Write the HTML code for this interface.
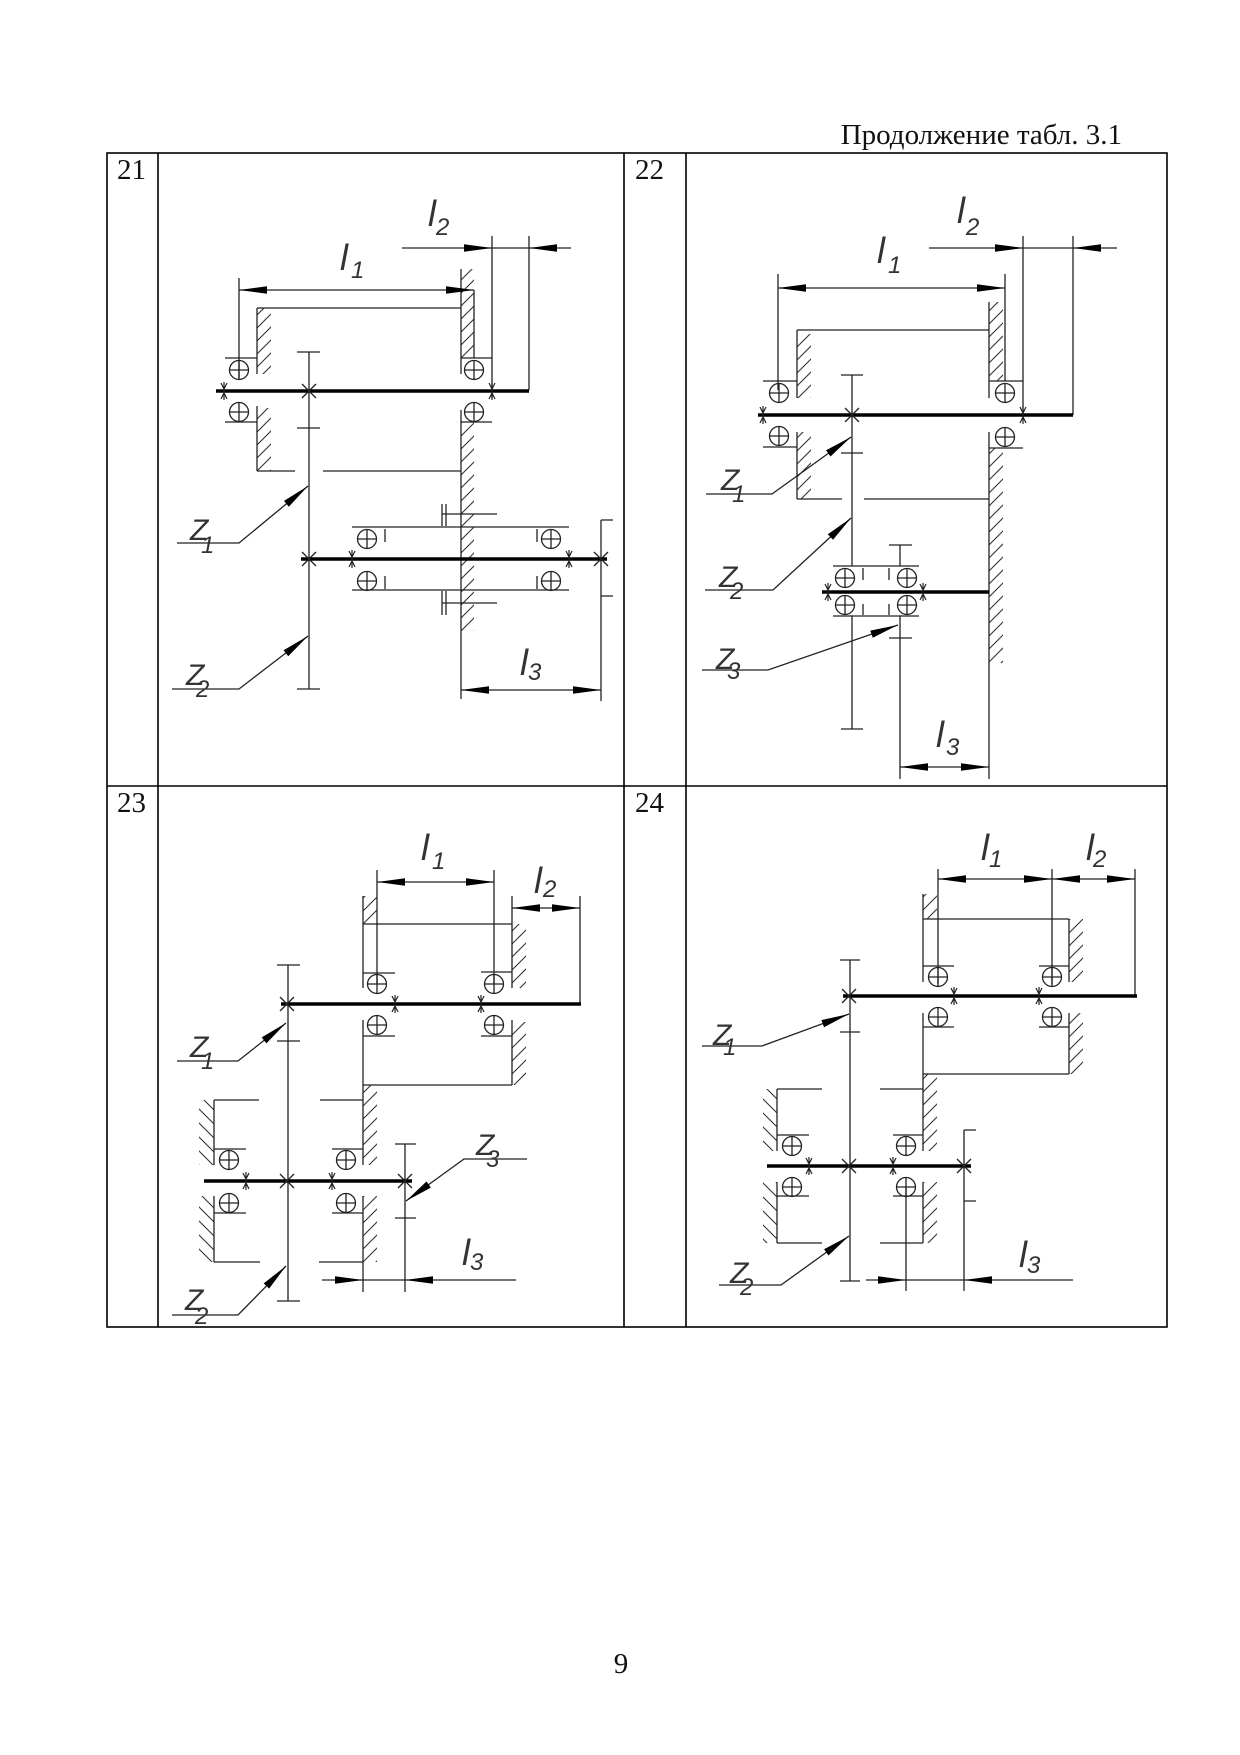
<!DOCTYPE html>
<html><head><meta charset="utf-8"><style>
html,body{margin:0;padding:0;background:#fff;}
svg{display:block;}
.t{font-family:"Liberation Serif",serif;font-size:29px;fill:#111;}
.lb{font-family:"Liberation Sans",sans-serif;font-style:italic;font-size:36px;fill:#333;}
.zb{font-family:"Liberation Sans",sans-serif;font-style:italic;font-size:30px;fill:#333;}
.sb{font-size:24px;}
</style></head><body>
<svg width="1240" height="1755" viewBox="0 0 1240 1755" xmlns="http://www.w3.org/2000/svg">
<defs>
<path id="ar" d="M0,0 L-28,-3.8 L-28,3.8 Z" fill="#000" stroke="none"/>
<g id="b" fill="none" stroke="#222" stroke-width="1.3"><circle r="9.5"/><path d="M-9.5,0H9.5M0,-9.5V9.5"/></g>
<path id="x" d="M-7,-7L7,7M-7,7L7,-7" stroke="#222" stroke-width="1.3" fill="none"/>
<path id="s" d="M0,-9V9M-3,-8L0,-2L3,-8M-3,8L0,2L3,8" stroke="#222" stroke-width="1.2" fill="none"/>
<pattern id="hr" patternUnits="userSpaceOnUse" width="13" height="13"><path d="M0,13L13,0M-2,2L2,-2M11,15L15,11" stroke="#333" stroke-width="1.1"/></pattern>
<pattern id="hl" patternUnits="userSpaceOnUse" width="14" height="14"><path d="M0,0L14,14M-2,12L2,16M12,-2L16,2" stroke="#333" stroke-width="1.1"/></pattern>
</defs>
<rect width="1240" height="1755" fill="#fff"/>

<!-- header -->
<text class="t" x="1122" y="144" text-anchor="end">Продолжение табл. 3.1</text>
<!-- table -->
<g stroke="#000" stroke-width="1.6" fill="none">
<rect x="107" y="153" width="1060" height="1174"/>
<path d="M158,153V1327M624,153V1327M686,153V1327M107,786H1167"/>
</g>
<text class="t" x="117" y="179">21</text>
<text class="t" x="635" y="179">22</text>
<text class="t" x="117" y="812">23</text>
<text class="t" x="635" y="812">24</text>
<text class="t" x="621" y="1673" text-anchor="middle">9</text>

<!-- hatching -->
<g fill="url(#hr)" stroke="none">
<rect x="257" y="308" width="14" height="66"/><rect x="461" y="269" width="13" height="89"/>
<rect x="257" y="408" width="14" height="63"/><rect x="461" y="422" width="13" height="209"/>
<rect x="797" y="334" width="14" height="64"/><rect x="989" y="302" width="14" height="79"/>
<rect x="797" y="432" width="14" height="67"/><rect x="989" y="448" width="14" height="215"/>
<rect x="363" y="896" width="14" height="28"/><rect x="512" y="924" width="14" height="64"/>
<rect x="512" y="1022" width="14" height="63"/><rect x="363" y="1085" width="14" height="80"/>
<rect x="363" y="1196" width="14" height="66"/>
<rect x="923" y="894" width="14" height="25"/><rect x="1069" y="919" width="14" height="63"/>
<rect x="1069" y="1013" width="14" height="61"/><rect x="923" y="1074" width="14" height="77"/>
<rect x="923" y="1182" width="14" height="61"/>
</g>
<g fill="url(#hl)" stroke="none">
<rect x="199" y="1100" width="15" height="65"/><rect x="199" y="1196" width="15" height="66"/>
<rect x="763" y="1089" width="14" height="62"/><rect x="763" y="1182" width="14" height="61"/>
</g>

<!-- thin lines -->
<g stroke="#222" stroke-width="1.3" fill="none">
<!-- 21 -->
<path d="M402,248H571M492,236V398M529,236V390M239,290H474M239,278V378M257,308H461M257,308V374M461,269V374M474,290V358M225,358H257M461,358H492M225,422H257M461,422H492M257,406V471M257,471H295M323,471H461M461,410V699M309,352V689M297,352H320M297,428H320M297,689H320M177,543H239L308,486M172,689H239L308,636M442,504V526M446,504V526M442,514H497M442,591V615M446,591V615M442,603H497M352,527H569M352,590H569M385,529V542M537,529V542M385,576V589M537,576V589M601,520V701M601,520H613M601,596H613M461,690H601"/>
<!-- 22 -->
<path d="M929,248H1117M1023,236V420M1073,236V415M778,288H1005M778,274V390M1005,274V381M797,330H989M797,330V398M989,302V398M763,381H797M989,381H1023M763,447H797M989,448H1023M797,432V499M797,499H842M864,499H989M989,432V779M852,375V566M852,616V729M841,375H863M841,453H863M841,729H863M706,494H772L851,437M705,590H773L851,518M702,670H768L898,625M833,566H919M833,616H919M863,568V580M889,568V580M863,604V615M889,604V615M900,545V566M900,616V779M889,545H912M889,638H912M900,767H989"/>
<!-- 23 -->
<path d="M377,882H494M377,870V984M494,870V984M512,908H580M580,896V1004M363,896V988M363,1020V1165M363,924H512M512,896V988M512,1020V1085M363,973H395M481,972H512M363,1036H395M481,1036H512M363,1085H512M320,1100H363M332,1149H363M214,1100V1165M214,1100H259M214,1149H246M214,1196V1262M214,1262H260M214,1213H246M363,1196V1292M319,1262H363M332,1213H363M288,965V1301M277,965H300M277,1041H300M277,1301H300M405,1144V1292M395,1144H416M395,1218H416M177,1061H238L286,1023M172,1315H238L286,1266M527,1159H464L406,1201M322,1280H516"/>
<!-- 24 -->
<path d="M938,879H1135M938,869V984M1052,869V984M1135,869V996M923,894V982M923,1013V1151M923,919H1069M1069,919V982M1069,1013V1074M923,966H954M1039,966H1069M923,1027H954M1039,1027H1069M923,1074H1069M880,1089H923M893,1135H923M777,1089V1151M777,1089H822M777,1135H809M777,1182V1243M777,1243H822M777,1196H809M923,1182V1243M880,1243H923M893,1196H923M906,1187V1291M850,960V1281M840,960H860M840,1032H860M840,1281H860M964,1130V1291M964,1130H976M964,1201H976M702,1046H762L849,1014M719,1285H781L849,1236M866,1280H1073"/>
</g>

<!-- thick shafts -->
<g stroke="#000" stroke-width="3.5" fill="none">
<path d="M216,391H529M301,559H607M758,415H1073M822,592H989M281,1004H581M204,1181H412M843,996H1137M767,1166H971"/>
</g>

<!-- bearings -->
<use href="#b" x="239" y="370"/><use href="#b" x="474" y="370"/><use href="#b" x="239" y="412"/><use href="#b" x="474" y="412"/>
<use href="#b" x="367" y="539"/><use href="#b" x="367" y="581"/><use href="#b" x="551" y="539"/><use href="#b" x="551" y="581"/>
<use href="#b" x="779" y="393"/><use href="#b" x="1005" y="393"/><use href="#b" x="779" y="436"/><use href="#b" x="1005" y="437"/>
<use href="#b" x="845" y="578"/><use href="#b" x="845" y="605"/><use href="#b" x="907" y="578"/><use href="#b" x="907" y="605"/>
<use href="#b" x="377" y="984"/><use href="#b" x="494" y="984"/><use href="#b" x="377" y="1025"/><use href="#b" x="494" y="1025"/>
<use href="#b" x="229" y="1160"/><use href="#b" x="346" y="1160"/><use href="#b" x="229" y="1203"/><use href="#b" x="346" y="1203"/>
<use href="#b" x="938" y="977"/><use href="#b" x="1052" y="977"/><use href="#b" x="938" y="1017"/><use href="#b" x="1052" y="1017"/>
<use href="#b" x="792" y="1146"/><use href="#b" x="906" y="1146"/><use href="#b" x="792" y="1187"/><use href="#b" x="906" y="1187"/>

<!-- crosses -->
<use href="#x" x="309" y="391"/><use href="#x" x="309" y="559"/><use href="#x" x="601" y="559"/>
<use href="#x" x="852" y="415"/>
<use href="#x" x="287" y="1004"/><use href="#x" x="287" y="1181"/><use href="#x" x="405" y="1181"/>
<use href="#x" x="849" y="996"/><use href="#x" x="849" y="1166"/><use href="#x" x="964" y="1166"/>
<use href="#s" x="224" y="391"/><use href="#s" x="492" y="391"/><use href="#s" x="352" y="559"/><use href="#s" x="569" y="559"/>
<use href="#s" x="763" y="415"/><use href="#s" x="1023" y="415"/><use href="#s" x="828" y="592"/><use href="#s" x="923" y="592"/>
<use href="#s" x="395" y="1004"/><use href="#s" x="481" y="1004"/><use href="#s" x="246" y="1181"/><use href="#s" x="332" y="1181"/>
<use href="#s" x="954" y="996"/><use href="#s" x="1039" y="996"/><use href="#s" x="809" y="1166"/><use href="#s" x="893" y="1166"/>

<!-- arrows -->
<use href="#ar" transform="translate(492,248)"/><use href="#ar" transform="translate(529,248) scale(-1,1)"/>
<use href="#ar" transform="translate(239,290) scale(-1,1)"/><use href="#ar" transform="translate(474,290)"/>
<use href="#ar" transform="translate(461,690) scale(-1,1)"/><use href="#ar" transform="translate(601,690)"/>
<use href="#ar" transform="translate(308,486) rotate(-39.6)"/><use href="#ar" transform="translate(308,636) rotate(-37.9)"/>

<use href="#ar" transform="translate(1023,248)"/><use href="#ar" transform="translate(1073,248) scale(-1,1)"/>
<use href="#ar" transform="translate(778,288) scale(-1,1)"/><use href="#ar" transform="translate(1005,288)"/>
<use href="#ar" transform="translate(900,767) scale(-1,1)"/><use href="#ar" transform="translate(989,767)"/>
<use href="#ar" transform="translate(851,437) rotate(-35.8)"/><use href="#ar" transform="translate(851,518) rotate(-42.7)"/>
<use href="#ar" transform="translate(898,625) rotate(-19.1)"/>

<use href="#ar" transform="translate(377,882) scale(-1,1)"/><use href="#ar" transform="translate(494,882)"/>
<use href="#ar" transform="translate(512,908) scale(-1,1)"/><use href="#ar" transform="translate(580,908)"/>
<use href="#ar" transform="translate(363,1280)"/><use href="#ar" transform="translate(405,1280) scale(-1,1)"/>
<use href="#ar" transform="translate(286,1023) rotate(-38.4)"/><use href="#ar" transform="translate(286,1266) rotate(-45.6)"/>
<use href="#ar" transform="translate(406,1201) rotate(144.1)"/>

<use href="#ar" transform="translate(938,879) scale(-1,1)"/><use href="#ar" transform="translate(1052,879)"/>
<use href="#ar" transform="translate(1052,879) scale(-1,1)"/><use href="#ar" transform="translate(1135,879)"/>
<use href="#ar" transform="translate(906,1280)"/><use href="#ar" transform="translate(964,1280) scale(-1,1)"/>
<use href="#ar" transform="translate(849,1014) rotate(-20.2)"/><use href="#ar" transform="translate(849,1236) rotate(-35.8)"/>

<!-- labels -->
<text class="lb" x="340" y="270">l<tspan class="sb" x="351" y="278">1</tspan></text>
<text class="lb" x="428" y="226">l<tspan class="sb" x="436" y="235">2</tspan></text>
<text class="lb" x="520" y="675">l<tspan class="sb" x="528" y="680">3</tspan></text>
<text class="zb" x="190" y="540">Z<tspan class="sb" x="201" y="553">1</tspan></text>
<text class="zb" x="186" y="685">Z<tspan class="sb" x="196" y="697">2</tspan></text>

<text class="lb" x="877" y="263">l<tspan class="sb" x="888" y="273">1</tspan></text>
<text class="lb" x="957" y="223">l<tspan class="sb" x="966" y="235">2</tspan></text>
<text class="lb" x="936" y="747">l<tspan class="sb" x="946" y="755">3</tspan></text>
<text class="zb" x="721" y="490">Z<tspan class="sb" x="732" y="502">1</tspan></text>
<text class="zb" x="719" y="587">Z<tspan class="sb" x="730" y="599">2</tspan></text>
<text class="zb" x="716" y="669">Z<tspan class="sb" x="727" y="679">3</tspan></text>

<text class="lb" x="421" y="860">l<tspan class="sb" x="432" y="869">1</tspan></text>
<text class="lb" x="534" y="893">l<tspan class="sb" x="543" y="897">2</tspan></text>
<text class="lb" x="462" y="1265">l<tspan class="sb" x="470" y="1270">3</tspan></text>
<text class="zb" x="190" y="1057">Z<tspan class="sb" x="201" y="1069">1</tspan></text>
<text class="zb" x="185" y="1310">Z<tspan class="sb" x="195" y="1324">2</tspan></text>
<text class="zb" x="476" y="1155">Z<tspan class="sb" x="486" y="1167">3</tspan></text>

<text class="lb" x="981" y="860">l<tspan class="sb" x="989" y="867">1</tspan></text>
<text class="lb" x="1086" y="860">l<tspan class="sb" x="1093" y="867">2</tspan></text>
<text class="lb" x="1019" y="1267">l<tspan class="sb" x="1027" y="1273">3</tspan></text>
<text class="zb" x="713" y="1045">Z<tspan class="sb" x="723" y="1055">1</tspan></text>
<text class="zb" x="730" y="1283">Z<tspan class="sb" x="740" y="1295">2</tspan></text>
</svg>
</body></html>
